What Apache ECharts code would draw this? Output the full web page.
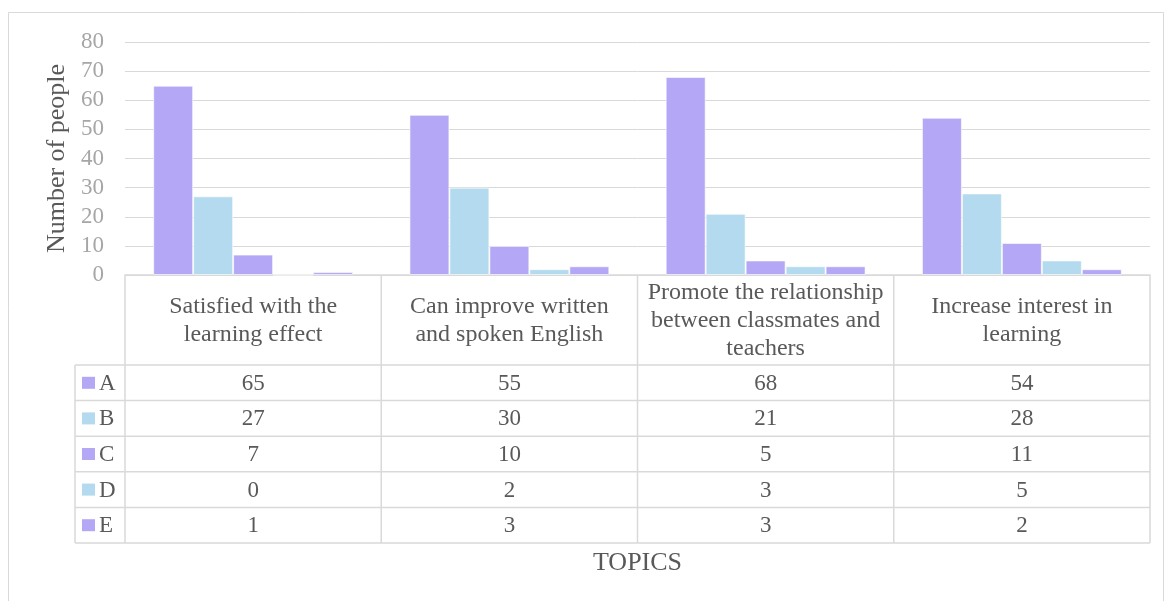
<!DOCTYPE html>
<html>
<head>
<meta charset="utf-8">
<script src="https://cdn.jsdelivr.net/npm/echarts@6/dist/echarts.min.js"></script>
<style>
  html, body { margin: 0; padding: 0; background: #fff; }
  #main { width: 1166px; height: 601px; }
</style>
</head>
<body>
<div id="main"></div>
<script>
// data
var topics = ['Satisfied with the\nlearning effect', 'Can improve written\nand spoken English',
  'Promote the relationship\nbetween classmates and\nteachers', 'Increase interest in\nlearning'];
var seriesNames = ['A', 'B', 'C', 'D', 'E'];
var valuesA = [65, 55, 68, 54];
var valuesB = [27, 30, 21, 28];
var valuesC = [7, 10, 5, 11];
var valuesD = [0, 2, 3, 5];
var valuesE = [1, 3, 3, 2];
var allValues = [valuesA, valuesB, valuesC, valuesD, valuesE];
var colors = ['#b4a7f5', '#b3daee', '#b4a7f5', '#b3daee', '#b4a7f5'];

var font = '"Liberation Serif", "DejaVu Serif", serif';
var lineColor = '#d9d9d9';
var textColor = '#595959';

// layout of plot + table
var plotLeft = 125, plotRight = 1150, plotTop = 42, plotBottom = 275;
var headerBottom = 365, rowH = 35.6, legendLeft = 75;
var colW = (plotRight - plotLeft) / topics.length;

var chart = echarts.init(document.getElementById('main'));

var series = [];
for (var i = 0; i < seriesNames.length; i++) {
  series.push({
    name: seriesNames[i],
    type: 'bar',
    data: allValues[i],
    barGap: '0%',
    barCategoryGap: '22%',
    itemStyle: { color: colors[i], borderColor: 'rgba(255,255,255,0.6)', borderWidth: 1 },
    silent: true
  });
}

// table drawing
var g = [];
// outer chart border
g.push({ type: 'rect', shape: { x: 8.5, y: 12.5, width: 1155, height: 620 },
  style: { fill: 'none', stroke: lineColor, lineWidth: 1 }, silent: true });

var tableBottom = headerBottom + rowH * seriesNames.length;
// vertical lines
for (var c = 0; c <= topics.length; c++) {
  var x = plotLeft + c * colW;
  g.push({ type: 'line', shape: { x1: x, y1: plotBottom, x2: x, y2: tableBottom },
    style: { stroke: lineColor, lineWidth: 1.5 }, silent: true });
}
g.push({ type: 'line', shape: { x1: legendLeft, y1: headerBottom, x2: legendLeft, y2: tableBottom },
  style: { stroke: lineColor, lineWidth: 1.5 }, silent: true });
// horizontal lines
for (var r = 0; r <= seriesNames.length; r++) {
  var y = headerBottom + r * rowH;
  g.push({ type: 'line', shape: { x1: legendLeft, y1: y, x2: plotRight, y2: y },
    style: { stroke: lineColor, lineWidth: 1.5 }, silent: true });
}
// header text
for (var c = 0; c < topics.length; c++) {
  g.push({ type: 'text', x: plotLeft + (c + 0.5) * colW, y: (plotBottom + headerBottom) / 2 + 1,
    style: { text: topics[c], font: '24px ' + font, fill: textColor, align: 'center',
      verticalAlign: 'middle', lineHeight: 28 }, silent: true });
}
// rows
for (var r = 0; r < seriesNames.length; r++) {
  var cy = headerBottom + (r + 0.5) * rowH;
  g.push({ type: 'rect', shape: { x: 82, y: cy - 6, width: 13, height: 12 },
    style: { fill: colors[r] }, silent: true });
  g.push({ type: 'text', x: 99, y: cy + 1,
    style: { text: seriesNames[r], font: '23px ' + font, fill: textColor, verticalAlign: 'middle' }, silent: true });
  for (var c = 0; c < topics.length; c++) {
    g.push({ type: 'text', x: plotLeft + (c + 0.5) * colW, y: cy + 1,
      style: { text: String(allValues[r][c]), font: '23px ' + font, fill: textColor,
        align: 'center', verticalAlign: 'middle' }, silent: true });
  }
}
// x axis title
g.push({ type: 'text', x: (plotLeft + plotRight) / 2, y: 563,
  style: { text: 'TOPICS', font: '26px ' + font, fill: textColor, align: 'center', verticalAlign: 'middle' }, silent: true });

var option = {
  animation: false,
  backgroundColor: '#fff',
  grid: { left: plotLeft, right: 1166 - plotRight, top: plotTop, bottom: 601 - plotBottom },
  xAxis: {
    type: 'category',
    data: topics,
    axisLine: { lineStyle: { color: lineColor, width: 1.5 } },
    axisTick: { show: false },
    axisLabel: { show: false }
  },
  yAxis: {
    type: 'value',
    min: 0, max: 80, interval: 10,
    name: 'Number of people',
    nameLocation: 'middle',
    nameGap: 54,
    nameTextStyle: { fontFamily: font, fontSize: 26, color: textColor },
    axisLine: { show: false },
    axisTick: { show: false },
    axisLabel: { fontFamily: font, fontSize: 23, color: '#a6a6a6', margin: 21 },
    splitLine: { lineStyle: { color: lineColor, width: 1 } }
  },
  series: series,
  graphic: g
};
chart.setOption(option);
</script>
</body>
</html>
